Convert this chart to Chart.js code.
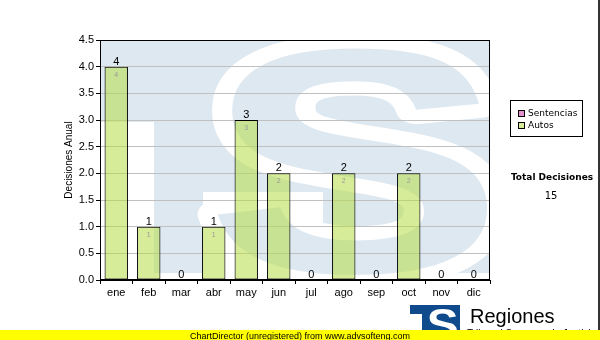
<!DOCTYPE html>
<html>
<head>
<meta charset="utf-8">
<script src="https://cdn.jsdelivr.net/npm/chart.js@4.4.1/dist/chart.umd.min.js"></script>
<style>
  html, body { margin: 0; padding: 0; background: #fff; }
  canvas { display: block; }
</style>
</head>
<body>
<canvas id="c" width="600" height="340"></canvas>
<script>
// ---- data ----
const months = ['ene','feb','mar','abr','may','jun','jul','ago','sep','oct','nov','dic'];
const seriesNames = ['Sentencias', 'Autos'];
const sentencias = [0,0,0,0,0,0,0,0,0,0,0,0];
const autos = [4,1,0,1,3,2,0,2,0,2,0,0];
const yMin = 0, yMax = 4.5, yStep = 0.5;
const yTitle = 'Decisiones Anual';
const totalTitle = 'Total Decisiones';
const logoText = 'Regiones';
const logoSubText = 'Tribunal Supremo de Justicia';
const footerText = 'ChartDirector (unregistered) from www.advsofteng.com';

const WM_BLUE = '#dee8f1';
const FONT = '"Liberation Sans", Arial, sans-serif';
const FONT2 = '"DejaVu Sans", Verdana, sans-serif';

function drawGlyphS(ctx, x0, y0, x1, y1, fill, outline, ow) {
  ctx.save();
  ctx.font = 'bold 200px ' + FONT;
  ctx.textAlign = 'left';
  ctx.textBaseline = 'alphabetic';
  const m = ctx.measureText('S');
  const w = m.actualBoundingBoxLeft + m.actualBoundingBoxRight;
  const h = m.actualBoundingBoxAscent + m.actualBoundingBoxDescent;
  const sx = (x1 - x0) / w, sy = (y1 - y0) / h;
  ctx.translate(x0, y0);
  ctx.scale(sx, sy);
  const tx = m.actualBoundingBoxLeft, ty = m.actualBoundingBoxAscent;
  if (outline) {
    ctx.lineWidth = ow / Math.sqrt(sx * sy);
    ctx.lineJoin = 'round';
    ctx.strokeStyle = outline;
    ctx.strokeText('S', tx, ty);
  }
  ctx.fillStyle = fill;
  ctx.fillText('S', tx, ty);
  ctx.restore();
}

const decoPlugin = {
  id: 'deco',
  beforeDraw(chart) {
    const ctx = chart.ctx;
    const a = chart.chartArea;
    ctx.save();
    ctx.fillStyle = '#fff';
    ctx.fillRect(0, 0, chart.width, chart.height);
    // watermark
    ctx.beginPath();
    ctx.rect(a.left, a.top, a.right - a.left, a.bottom - a.top);
    ctx.clip();
    ctx.fillStyle = WM_BLUE;
    ctx.fillRect(a.left, a.top, a.right - a.left, a.bottom - a.top);
    ctx.fillStyle = '#fff';
    ctx.fillRect(a.left, 122, 54, a.bottom - 122);
    ctx.fillRect(203, 192, 120, a.bottom - 192);
    ctx.fillRect(a.left, 273, a.right - a.left, a.bottom - 273);
    drawGlyphS(ctx, 216, 48, 488, 275, WM_BLUE, '#fff', 34);
    ctx.restore();
  },
  afterDatasetsDraw(chart) {
    const ctx = chart.ctx;
    const a = chart.chartArea;
    const metaTop = chart.getDatasetMeta(chart.data.datasets.length - 1);
    ctx.save();
    // value labels
    months.forEach((m, i) => {
      const el = metaTop.data[i];
      const total = chart.data.datasets.reduce((s, d) => s + d.data[i], 0);
      ctx.fillStyle = '#000';
      ctx.font = '11px ' + FONT;
      ctx.textAlign = 'center';
      ctx.textBaseline = 'alphabetic';
      ctx.fillText(String(total), el.x, el.y - 2);
      if (autos[i] > 0) {
        ctx.fillStyle = '#9a9a9a';
        ctx.font = '7px ' + FONT;
        ctx.fillText(String(autos[i]), el.x, el.y + 10);
      }
    });
    // plot border
    ctx.strokeStyle = '#000';
    ctx.lineWidth = 1;
    ctx.strokeRect(Math.round(a.left) + 0.5, Math.round(a.top) + 0.5,
                   Math.round(a.right - a.left) - 1, Math.round(a.bottom - a.top) - 1);
    ctx.restore();
  },
  afterDraw(chart) {
    const ctx = chart.ctx;
    ctx.save();
    // y axis title
    ctx.save();
    ctx.translate(69, 160);
    ctx.rotate(-Math.PI / 2);
    ctx.font = '10px ' + FONT;
    ctx.fillStyle = '#000';
    ctx.textAlign = 'center';
    ctx.textBaseline = 'middle';
    ctx.fillText(yTitle, 0, 0);
    ctx.restore();

    // legend
    ctx.strokeStyle = '#000';
    ctx.lineWidth = 1;
    ctx.strokeRect(510.5, 100.5, 72, 36);
    chart.data.datasets.forEach((d, k) => {
      const y = 110 + k * 12;
      ctx.fillStyle = '#fff';
      ctx.fillRect(518, y, 6, 6);
      ctx.fillStyle = d.legendColor;
      ctx.fillRect(518, y, 6, 6);
      ctx.strokeRect(518.5, y + 0.5, 6, 6);
      ctx.fillStyle = '#000';
      ctx.font = '9px ' + FONT2;
      ctx.textAlign = 'left';
      ctx.textBaseline = 'middle';
      ctx.fillText(d.label, 528, y + 3.5);
    });

    // total
    const total = chart.data.datasets.reduce((s, d) => s + d.data.reduce((p, v) => p + v, 0), 0);
    ctx.textAlign = 'center';
    ctx.textBaseline = 'middle';
    ctx.font = 'bold 9px ' + FONT2;
    ctx.fillStyle = '#000';
    ctx.fillText(totalTitle, 552, 177.5);
    ctx.font = '10px ' + FONT2;
    ctx.fillText(String(total), 551, 196);

    // logo
    ctx.fillStyle = '#0e4a8c';
    ctx.fillRect(410, 305, 50, 9);
    ctx.fillRect(422, 305, 38, 26);
    drawGlyphS(ctx, 428, 309, 457, 340, '#fff', null, 0);
    ctx.fillStyle = '#000';
    ctx.textAlign = 'left';
    ctx.textBaseline = 'alphabetic';
    ctx.font = '20px ' + FONT;
    ctx.fillText(logoText, 470, 323);
    ctx.font = '10px ' + FONT;
    ctx.fillText(logoSubText, 467, 337);

    // footer
    ctx.fillStyle = '#ffff00';
    ctx.fillRect(0, 330, 600, 10);
    ctx.fillStyle = '#000';
    ctx.font = '9px ' + FONT;
    ctx.textAlign = 'center';
    ctx.fillText(footerText, 300, 338.5);

    // right edge line
    ctx.fillStyle = '#333';
    ctx.fillRect(598, 0, 2, 330);
    ctx.restore();
  }
};

new Chart(document.getElementById('c'), {
  type: 'bar',
  data: {
    labels: months,
    datasets: [
      { label: seriesNames[0], data: sentencias, backgroundColor: 'rgba(224,128,200,0.6)',
        legendColor: '#e48fcf', borderColor: '#000', borderWidth: 1, borderSkipped: false,
        barPercentage: 0.72, categoryPercentage: 1 },
      { label: seriesNames[1], data: autos, backgroundColor: 'rgba(180,220,68,0.55)',
        legendColor: '#d6ec98', borderColor: '#000', borderWidth: 1, borderSkipped: false,
        barPercentage: 0.72, categoryPercentage: 1 }
    ]
  },
  options: {
    responsive: false,
    animation: false,
    devicePixelRatio: 1,
    layout: { padding: { left: 0, right: 110, top: 40, bottom: 0 } },
    plugins: { legend: { display: false }, tooltip: { enabled: false } },
    scales: {
      x: {
        stacked: true,
        offset: true,
        grid: { display: true, drawOnChartArea: false, tickLength: 4, tickColor: '#000' },
        border: { display: true, color: '#000' },
        ticks: { font: { size: 11, family: FONT }, color: '#000', padding: 2, maxRotation: 0, autoSkip: false },
        afterFit(s) { s.height = 60; }
      },
      y: {
        stacked: true,
        min: yMin, max: yMax,
        ticks: { stepSize: yStep, callback: v => Number(v).toFixed(1),
                 font: { size: 11, family: FONT }, color: '#000', padding: 2 },
        grid: { color: '#c0c0c0', tickLength: 4, tickColor: '#000' },
        border: { display: true, color: '#000' },
        afterFit(s) { s.width = 100; }
      }
    }
  },
  plugins: [decoPlugin]
});
</script>
</body>
</html>
